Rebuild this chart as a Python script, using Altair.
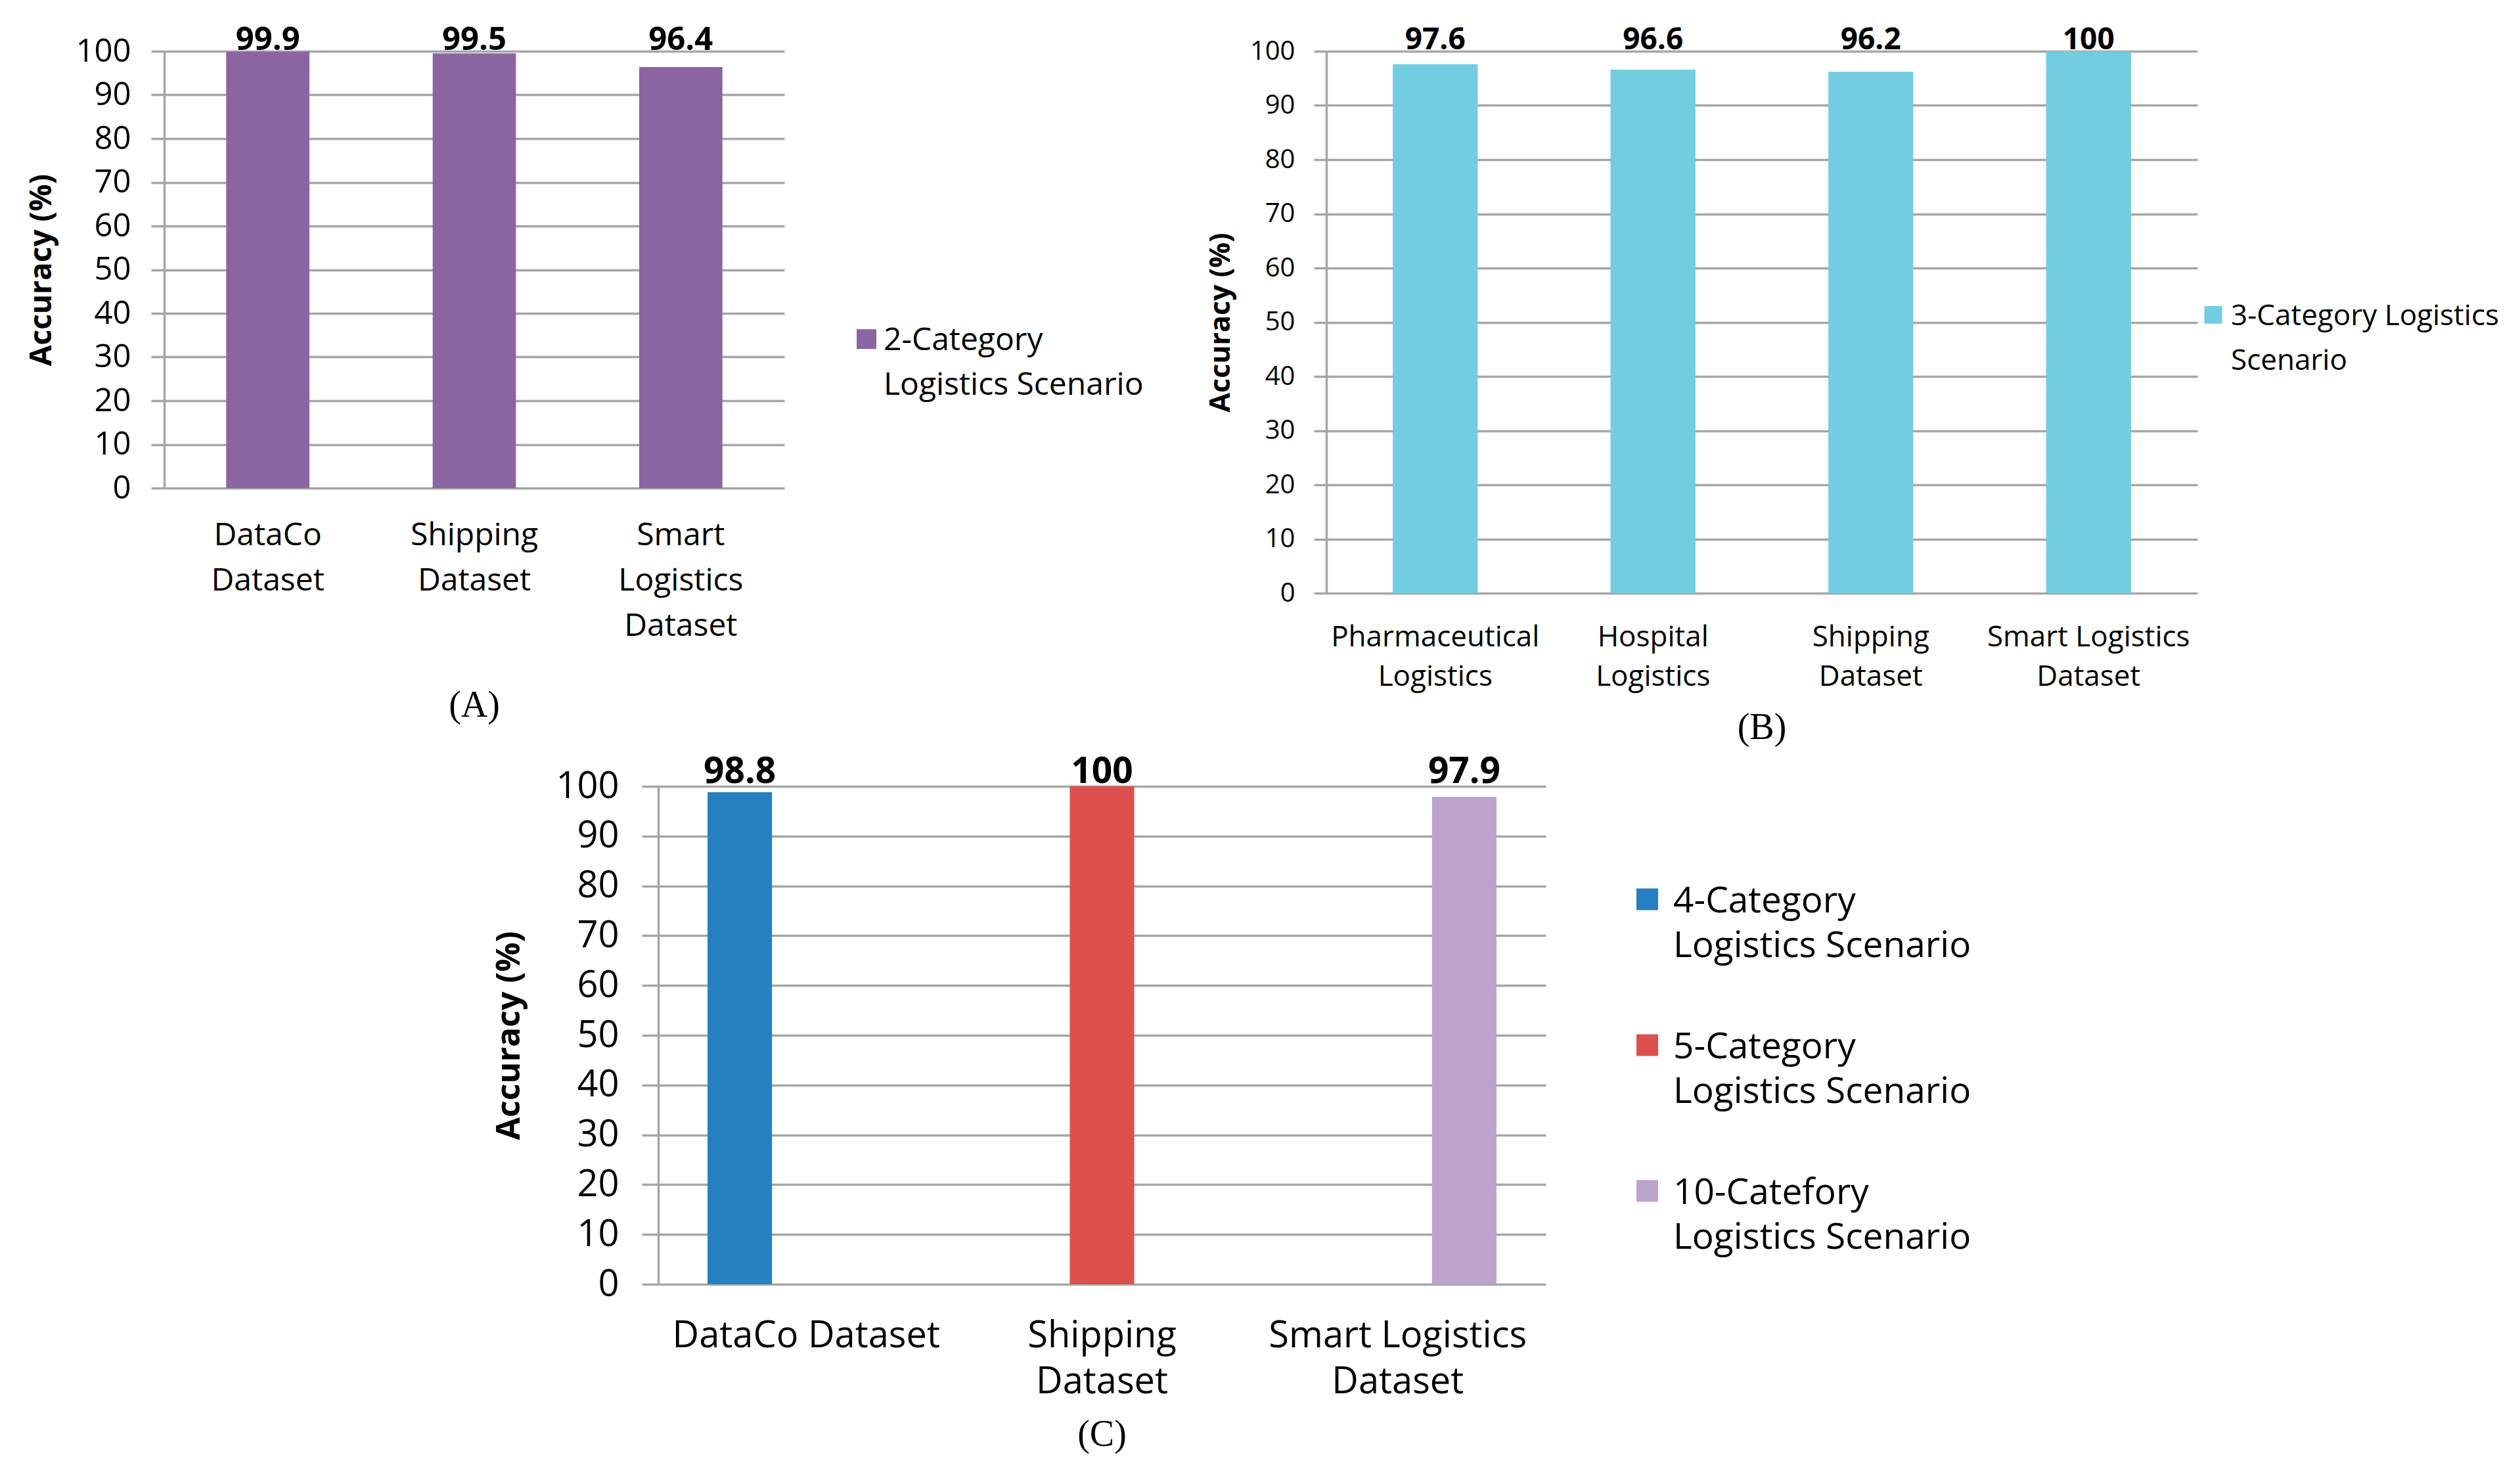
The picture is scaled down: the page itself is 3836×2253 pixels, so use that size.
import altair as alt
import pandas as pd

# ---------------- data ----------------
Y_TICKS = [0, 10, 20, 30, 40, 50, 60, 70, 80, 90, 100]

A_CATEGORIES = ["DataCo\nDataset", "Shipping\nDataset", "Smart\nLogistics\nDataset"]
A_VALUES = [99.9, 99.5, 96.4]
A_SERIES = ["2-Category\nLogistics Scenario"]
A_COLORS = ["#8B64A2"]

B_CATEGORIES = ["Pharmaceutical\nLogistics", "Hospital\nLogistics", "Shipping\nDataset",
                "Smart Logistics\nDataset"]
B_VALUES = [97.6, 96.6, 96.2, 100]
B_SERIES = ["3-Category Logistics\nScenario"]
B_COLORS = ["#72CDE0"]

C_CATEGORIES = ["DataCo Dataset", "Shipping\nDataset", "Smart Logistics\nDataset"]
C_SERIES = ["4-Category\nLogistics Scenario", "5-Category\nLogistics Scenario",
            "10-Catefory\nLogistics Scenario"]
C_VALUES = [98.8, 100, 97.9]
C_COLORS = ["#2580C0", "#DD504E", "#BBA3CB"]

GRID = "#A6A6A6"
FONT = "Open Sans"
SPLIT = "split(datum.label, '\\n')"


def square_path(shift):
    return f"M-1,{-1 - shift}L1,{-1 - shift}L1,{1 - shift}L-1,{1 - shift}Z"


def panel(cats, series, vals, colors, s, caption, grouped=False):
    if grouped:
        df = pd.DataFrame({"category": cats, "series": series, "value": vals})
    else:
        df = pd.DataFrame({"category": cats, "series": series * len(cats), "value": vals})

    x_axis = alt.Axis(title=None, labelAngle=0, labelExpr=SPLIT, labelFont=FONT,
                      labelFontSize=s["xfs"], labelLineHeight=s["xlh"], labelBaseline="top",
                      labelPadding=s["xpad"], labelColor="black", labelLimit=2000,
                      ticks=False, domain=False, grid=False)
    x_scale = alt.Scale(paddingInner=s["pi"], paddingOuter=s["po"])
    y_axis = alt.Axis(values=Y_TICKS, title="Accuracy (%)", titleFont=FONT,
                      titleFontSize=s["tfs"], titleFontWeight="bold", titleColor="black",
                      titlePadding=s["tpad"], labelFont=FONT, labelFontSize=s["yfs"],
                      labelColor="black", labelPadding=s["ypad"], tickSize=s["tick"],
                      tickColor=GRID, tickWidth=3.5, domainColor=GRID, domainWidth=3.5,
                      gridColor=GRID, gridWidth=3.5, grid=True, labelFlush=False,
                      labelOverlap=False)
    y_scale = alt.Scale(domain=[0, 100], nice=False)

    legend = alt.Legend(title=None, orient="none", legendX=s["lx"], legendY=s["ly"],
                        labelExpr=SPLIT, labelFont=FONT, labelFontSize=s["lfs"],
                        labelColor="black", labelLimit=2000, labelBaseline="alphabetic",
                        labelOffset=s["loff"], symbolType=square_path(s["shift"]),
                        symbolSize=s["sym"] ** 2, symbolStrokeWidth=0, symbolOpacity=1,
                        rowPadding=s.get("rowpad", 0), padding=0)

    enc = dict(
        x=alt.X("category:N", sort=cats, scale=x_scale, axis=x_axis),
        y=alt.Y("value:Q", scale=y_scale, axis=y_axis),
        color=alt.Color("series:N", sort=series,
                        scale=alt.Scale(domain=series, range=colors), legend=legend),
    )
    tenc = dict(
        x=alt.X("category:N", sort=cats, scale=x_scale, axis=x_axis),
        y=alt.YDatum(100, scale=y_scale, axis=y_axis),
        text=alt.Text("value:Q", format=".1~f"),
    )
    if grouped:
        off = alt.XOffset("series:N", sort=series,
                          scale=alt.Scale(domain=series, paddingInner=0.03, paddingOuter=0))
        enc["xOffset"] = off
        tenc["xOffset"] = off

    bars = alt.Chart(df).mark_bar().encode(**enc)
    labels = alt.Chart(df).mark_text(
        baseline="alphabetic", dy=s["vdy"], font=FONT, fontSize=s["vfs"],
        fontWeight="bold", color="black").encode(**tenc)

    return alt.layer(bars, labels).properties(
        width=s["w"], height=s["h"],
        title=alt.TitleParams(text=caption, orient="bottom", anchor="middle", frame="group",
                              font="Liberation Serif", fontSize=56, fontWeight="normal",
                              color="black", offset=s["capoff"]),
    )


SA = dict(w=944, h=665, pi=0.597, po=0.30, xfs=48, xlh=69, xpad=48, tfs=46, tpad=27,
          yfs=49, ypad=31, tick=20, lx=1045, ly=431, lfs=48, loff=2, shift=1.12, sym=30,
          vdy=-2, vfs=49, capoff=70)
SB = dict(w=1326, h=825, pi=0.61, po=0.305, xfs=44, xlh=60, xpad=45, tfs=43, tpad=22,
          yfs=40, ypad=29, tick=19, lx=1328, ly=395, lfs=44, loff=5, shift=1.16, sym=27,
          vdy=-3, vfs=46, capoff=29)
SC = dict(w=1351, h=758, pi=0.333, po=0.1667, xfs=56, xlh=70, xpad=51, tfs=50, tpad=45,
          yfs=56, ypad=35, tick=25, lx=1478, ly=164, lfs=55, loff=12, shift=1.18, sym=33,
          vdy=-5, vfs=55, rowpad=98, capoff=26)

chart_a = panel(A_CATEGORIES, A_SERIES, A_VALUES, A_COLORS, SA, "(A)")
chart_b = panel(B_CATEGORIES, B_SERIES, B_VALUES, B_COLORS, SB, "(B)")
chart_c = panel(C_CATEGORIES, C_SERIES, C_VALUES, C_COLORS, SC, "(C)", grouped=True)

spacer = alt.Chart(pd.DataFrame({"v": [0]})).mark_point(opacity=0).properties(width=500, height=1)

top_row = alt.hconcat(chart_a, chart_b, spacing=96).resolve_scale(
    color="independent", x="independent", y="independent")
bottom_row = alt.hconcat(spacer, chart_c, spacing=0).resolve_scale(
    color="independent", x="independent", y="independent")

chart = alt.vconcat(top_row, bottom_row, spacing=12).resolve_scale(
    color="independent", x="independent", y="independent"
).configure(
    padding={"left": 32, "top": 29, "right": 10, "bottom": 10},
    font=FONT,
    background="white",
    style={"guide-label": {"lineHeight": 68}},
).configure_view(strokeWidth=0)

chart.save("out.html", embed_options={"renderer": "svg", "actions": False})
